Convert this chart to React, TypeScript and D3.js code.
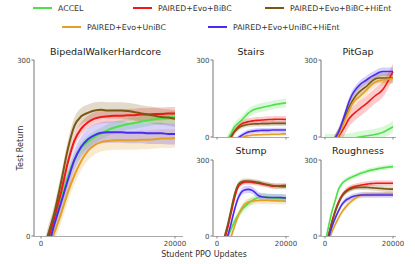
import React from 'react';
import * as d3 from 'd3';

// x positions (student PPO updates)
const STEPS = [0, 1000, 2000, 3000, 4000, 5000, 6000, 7000, 8000, 9000, 10000, 11000, 12000, 13000, 14000, 15000, 16000, 17000, 18000, 19000, 20000];

const SERIES_NAMES = ['ACCEL', 'PAIRED+Evo+BiBC', 'PAIRED+Evo+BiBC+HiEnt', 'PAIRED+Evo+UniBC', 'PAIRED+Evo+UniBC+HiEnt'];
const COLORS = ['#4ee04a', '#f01818', '#7b5812', '#e4a024', '#4a2cf0'];

const Y_TICKS = [0, 300];
const X_TICKS = [0, 20000];

// BipedalWalkerHardcore
const bwhAccel = [-55, -16, 26, 63, 101, 130, 150, 161, 169, 175, 181, 185, 188, 191, 193, 195, 197, 199, 201, 202, 203];
const bwhBiBC = [-50, -8, 32, 75, 125, 163, 183, 194, 200, 203, 204, 205, 205, 206, 206, 207, 207, 208, 208, 209, 209];
const bwhBiBCHiEnt = [-45, 0, 40, 92, 148, 188, 204, 210, 214, 215, 214, 214, 214, 213, 211, 209, 207, 205, 203, 202, 200];
const bwhUniBC = [-60, -25, 6, 38, 74, 104, 128, 145, 155, 160, 162, 163, 163, 163, 163, 164, 164, 165, 166, 166, 167];
const bwhUniBCHiEnt = [-60, -22, 20, 57, 95, 130, 152, 165, 172, 176, 177, 177, 177, 176, 176, 176, 175, 175, 175, 174, 174];
const bwhSpread = [10, 11, 14, 16, 18];

// Stairs
const stairsAccel = [-80, -60, -35, -10, 12, 38, 52, 64, 78, 92, 102, 108, 112, 115, 118, 121, 124, 127, 129, 131, 133];
const stairsBiBC = [-80, -60, -40, -20, -3, 20, 38, 50, 56, 60, 62, 64, 65, 66, 67, 68, 68, 69, 69, 69, 68];
const stairsBiBCHiEnt = [-80, -60, -40, -20, 0, 20, 33, 42, 46, 49, 50, 51, 51, 52, 52, 52, 53, 53, 53, 53, 53];
const stairsUniBC = [-80, -70, -60, -50, -40, -30, -20, -5, 2, 5, 7, 8, 9, 9, 10, 10, 11, 11, 11, 12, 12];
const stairsUniBCHiEnt = [-100, -80, -60, -45, -30, -18, -5, 5, 13, 19, 22, 24, 25, 26, 26, 26, 27, 27, 27, 27, 27];
const stairsSpread = [17, 13, 10, 7, 9];

// PitGap
const pitAccel = [-10, -10, -10, -10, -10, -10, -10, -8, -6, -3, 0, 2, 4, 6, 8, 11, 14, 18, 25, 32, 40];
const pitBiBC = [-90, -65, -40, -20, 2, 22, 45, 70, 85, 97, 108, 118, 128, 140, 152, 163, 172, 185, 205, 230, 255];
const pitBiBCHiEnt = [-90, -60, -35, -10, 15, 45, 82, 115, 140, 160, 175, 186, 195, 208, 220, 228, 230, 230, 230, 230, 230];
const pitUniBC = [-90, -65, -40, -15, 8, 38, 70, 100, 128, 145, 155, 168, 180, 195, 207, 215, 220, 222, 224, 226, 228];
const pitUniBCHiEnt = [-100, -70, -40, -5, 20, 55, 95, 135, 165, 185, 200, 212, 220, 230, 238, 245, 252, 255, 255, 255, 255];
const pitSpread = [22, 30, 20, 20, 16];

// Stump
const stumpAccel = [-100, -80, -45, -8, 25, 55, 80, 100, 115, 128, 138, 146, 152, 155, 155, 153, 151, 150, 149, 149, 149];
const stumpBiBC = [-100, -70, -25, 25, 85, 145, 190, 207, 212, 213, 212, 210, 208, 205, 202, 200, 197, 197, 198, 199, 200];
const stumpBiBCHiEnt = [-100, -60, -10, 40, 100, 160, 200, 213, 217, 217, 216, 214, 212, 208, 205, 202, 199, 197, 196, 195, 195];
const stumpUniBC = [-100, -85, -65, -30, -5, 35, 75, 105, 125, 133, 137, 139, 140, 140, 140, 140, 139, 139, 138, 138, 137];
const stumpUniBCHiEnt = [-100, -80, -40, -5, 45, 100, 145, 172, 182, 184, 182, 172, 160, 155, 153, 152, 152, 152, 152, 151, 150];
const stumpSpread = [16, 10, 10, 14, 14];

// Roughness
const roughAccel = [-30, 35, 95, 140, 185, 207, 219, 227, 233, 239, 245, 250, 254, 258, 261, 264, 267, 269, 271, 273, 274];
const roughBiBC = [-50, 0, 55, 100, 135, 160, 176, 186, 192, 196, 199, 202, 204, 206, 207, 208, 208, 208, 208, 208, 208];
const roughBiBCHiEnt = [-50, 0, 50, 95, 130, 157, 172, 182, 188, 191, 192, 192, 192, 191, 190, 189, 188, 187, 186, 185, 185];
const roughUniBC = [-70, -25, 15, 45, 72, 95, 113, 128, 140, 150, 158, 163, 165, 165, 166, 166, 167, 167, 168, 168, 168];
const roughUniBCHiEnt = [-60, -10, 35, 70, 100, 125, 140, 148, 155, 159, 161, 162, 162, 162, 162, 162, 162, 162, 162, 162, 162];
const roughSpread = [9, 11, 10, 10, 11];

const FONT = 'DejaVu Sans, sans-serif';

type Panel = {
  id: string;
  title: string;
  series: number[][];
  spread: number[];
  xr: [number, number];
  yr: [number, number];
  spine: number;
  axisEnd: number;
  xLabels: boolean;
  lw: number;
  titleX: number;
  titleY: number;
  titleSize: number;
};

const panels: Panel[] = [
  { id: 'bwh', title: 'BipedalWalkerHardcore', series: [bwhAccel, bwhBiBC, bwhBiBCHiEnt, bwhUniBC, bwhUniBCHiEnt], spread: bwhSpread,
    xr: [41, 175], yr: [236, 60], spine: 34, axisEnd: 183, xLabels: true, lw: 2, titleX: 105.5, titleY: 55, titleSize: 9.5 },
  { id: 'stairs', title: 'Stairs', series: [stairsAccel, stairsBiBC, stairsBiBCHiEnt, stairsUniBC, stairsUniBCHiEnt], spread: stairsSpread,
    xr: [217, 286], yr: [137, 60], spine: 213, axisEnd: 289, xLabels: false, lw: 1.6, titleX: 251, titleY: 55, titleSize: 9.5 },
  { id: 'pit', title: 'PitGap', series: [pitAccel, pitBiBC, pitBiBCHiEnt, pitUniBC, pitUniBCHiEnt], spread: pitSpread,
    xr: [325, 393], yr: [137, 60], spine: 321, axisEnd: 396, xLabels: false, lw: 1.6, titleX: 358, titleY: 55, titleSize: 9.5 },
  { id: 'stump', title: 'Stump', series: [stumpAccel, stumpBiBC, stumpBiBCHiEnt, stumpUniBC, stumpUniBCHiEnt], spread: stumpSpread,
    xr: [217, 286], yr: [236, 160], spine: 213, axisEnd: 289, xLabels: true, lw: 1.6, titleX: 251, titleY: 154, titleSize: 9.5 },
  { id: 'rough', title: 'Roughness', series: [roughAccel, roughBiBC, roughBiBCHiEnt, roughUniBC, roughUniBCHiEnt], spread: roughSpread,
    xr: [325, 393], yr: [236, 160], spine: 321, axisEnd: 396, xLabels: true, lw: 1.6, titleX: 358, titleY: 154, titleSize: 9.5 },
];

const legendItems = [
  { i: 0, x: 33, y: 8 },
  { i: 1, x: 133, y: 8 },
  { i: 2, x: 265, y: 8 },
  { i: 3, x: 62, y: 27 },
  { i: 4, x: 208, y: 27 },
];

function PanelView({ p }: { p: Panel }) {
  const x = d3.scaleLinear().domain([0, 20000]).range(p.xr);
  const y = d3.scaleLinear().domain([0, 300]).range(p.yr);
  const line = d3.line<[number, number]>().x(d => x(d[0])).y(d => y(d[1])).curve(d3.curveMonotoneX);
  const clipId = `clip-${p.id}`;
  return (
    <g>
      <defs>
        <clipPath id={clipId}>
          <rect x={p.spine} y={p.yr[1] - 2} width={p.axisEnd - p.spine + 4} height={p.yr[0] - p.yr[1] + 2} />
        </clipPath>
      </defs>
      <g clipPath={`url(#${clipId})`}>
        {p.series.map((vals, si) => {
          const s = p.spread[si];
          const area = d3.area<number>()
            .x((_, i) => x(STEPS[i]))
            .y0(v => y(v - s))
            .y1(v => y(v + s))
            .curve(d3.curveMonotoneX);
          return <path key={'a' + si} d={area(vals) || ''} fill={COLORS[si]} fillOpacity={0.22} stroke="none" />;
        })}
        {p.series.map((vals, si) => (
          <path key={'l' + si} d={line(vals.map((v, i) => [STEPS[i], v] as [number, number])) || ''}
            fill="none" stroke={COLORS[si]} strokeWidth={p.lw} strokeLinejoin="round" />
        ))}
      </g>
      {/* axes */}
      <line x1={p.spine} x2={p.spine} y1={p.yr[1]} y2={p.yr[0]} stroke="#777" strokeWidth={1} />
      <line x1={p.spine} x2={p.axisEnd} y1={p.yr[0] + 0.5} y2={p.yr[0] + 0.5} stroke="#aaa" strokeWidth={1} />
      {Y_TICKS.map(t => (
        <g key={'yt' + t}>
          <line x1={p.spine - 2.5} x2={p.spine} y1={y(t)} y2={y(t)} stroke="#777" strokeWidth={1} />
          <text x={p.spine - 3.5} y={y(t) + 2.5} fontSize={7} fontFamily={FONT} fill="#444" textAnchor="end">{t}</text>
        </g>
      ))}
      {X_TICKS.map(t => (
        <g key={'xt' + t}>
          <line x1={x(t)} x2={x(t)} y1={p.yr[0]} y2={p.yr[0] + 2.5} stroke="#888" strokeWidth={1} />
          {p.xLabels && (
            <text x={x(t)} y={p.yr[0] + 10} fontSize={7} fontFamily={FONT} fill="#444" textAnchor="middle">{t}</text>
          )}
        </g>
      ))}
      <text x={p.titleX} y={p.titleY} fontSize={p.titleSize} fontFamily={FONT} fill="#222" textAnchor="middle">{p.title}</text>
    </g>
  );
}

export default function App() {
  return (
    <svg width={415} height={264} style={{ position: 'absolute', left: 0, top: 0, background: '#fff' }}>
      <rect x={0} y={0} width={415} height={264} fill="#fff" />
      {legendItems.map(li => (
        <g key={li.i}>
          <line x1={li.x} x2={li.x + 19} y1={li.y} y2={li.y} stroke={COLORS[li.i]} strokeWidth={2} />
          <text x={li.x + 25} y={li.y + 2.8} fontSize={7.8} fontFamily={FONT} fill="#333">{SERIES_NAMES[li.i]}</text>
        </g>
      ))}
      {panels.map(p => <PanelView key={p.id} p={p} />)}
      <text transform="translate(23,148) rotate(-90)" fontSize={8} fontFamily={FONT} fill="#333" textAnchor="middle">Test Return</text>
      <text x={204} y={257} fontSize={8} fontFamily={FONT} fill="#333" textAnchor="middle">Student PPO Updates</text>
    </svg>
  );
}
